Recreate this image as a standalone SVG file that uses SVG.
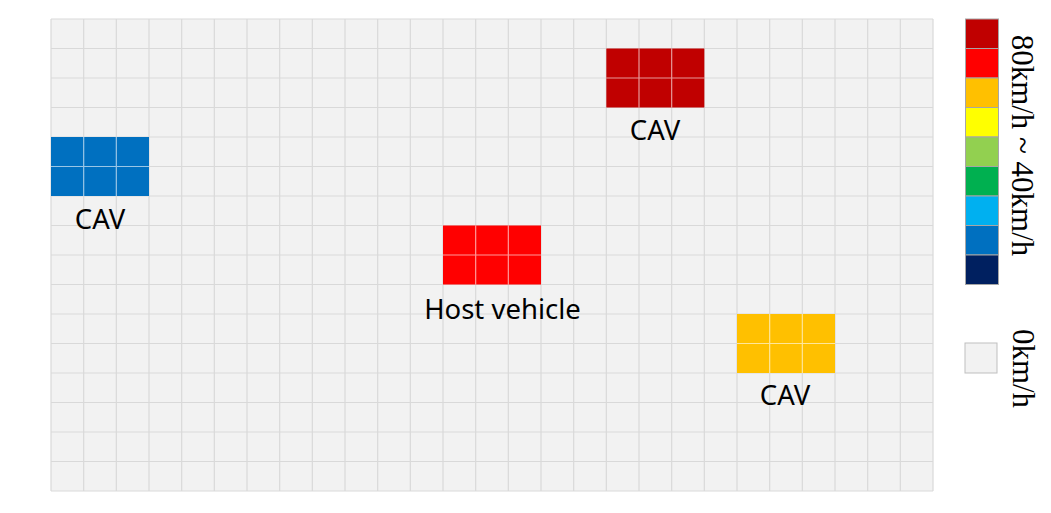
<svg xmlns="http://www.w3.org/2000/svg" width="1051" height="513" viewBox="0 0 1051 513">
<style>
.grid{fill:none;stroke:#d9d9d9;stroke-width:1.2}
.inner{fill:none;stroke:#ffffff;stroke-opacity:0.6;stroke-width:1.2}
.lbl{font-family:"Noto Sans","Open Sans",sans-serif;font-size:27.5px;fill:#000;text-anchor:middle}
.leg{stroke:#a6a6a6;stroke-width:1}
.legtxt{font-family:"Liberation Serif","Times New Roman",serif;font-size:31px;fill:#000;text-anchor:middle}
</style>
<rect width="1051" height="513" fill="#ffffff"/>
<g id="grid">
<rect x="51" y="19" width="882" height="472" fill="#f2f2f2"/>
<path class="grid" d="M51 19V491M83.67 19V491M116.33 19V491M149 19V491M181.67 19V491M214.33 19V491M247 19V491M279.67 19V491M312.33 19V491M345 19V491M377.67 19V491M410.33 19V491M443 19V491M475.67 19V491M508.33 19V491M541 19V491M573.67 19V491M606.33 19V491M639 19V491M671.67 19V491M704.33 19V491M737 19V491M769.67 19V491M802.33 19V491M835 19V491M867.67 19V491M900.33 19V491M933 19V491
M51 19H933M51 48.5H933M51 78H933M51 107.5H933M51 137H933M51 166.5H933M51 196H933M51 225.5H933M51 255H933M51 284.5H933M51 314H933M51 343.5H933M51 373H933M51 402.5H933M51 432H933M51 461.5H933M51 491H933"/>
</g>
<g id="cav-left">
<rect x="51" y="137" width="98" height="59" fill="#0070c0"/>
<path class="inner" d="M83.67 137V196M116.33 137V196M51 166.5H149"/>
<text class="lbl" x="100" y="228.5">CAV</text>
</g>
<g id="cav-top">
<rect x="606.33" y="48.5" width="98" height="59" fill="#c00000"/>
<path class="inner" d="M639 48.5V107.5M671.67 48.5V107.5M606.33 78H704.33"/>
<text class="lbl" x="655" y="140">CAV</text>
</g>
<g id="host-vehicle">
<rect x="443" y="225.5" width="98" height="59" fill="#ff0000"/>
<path class="inner" d="M475.67 225.5V284.5M508.33 225.5V284.5M443 255H541"/>
<text class="lbl" x="502.5" y="318.5">Host vehicle</text>
</g>
<g id="cav-right">
<rect x="737" y="314" width="98" height="59" fill="#ffc000"/>
<path class="inner" d="M769.67 314V373M802.33 314V373M737 343.5H835"/>
<text class="lbl" x="785" y="405">CAV</text>
</g>
<g id="legend">
<rect class="leg" x="965.5" y="19" width="33" height="29.5" fill="#c00000"/>
<rect class="leg" x="965.5" y="48.5" width="33" height="29.5" fill="#ff0000"/>
<rect class="leg" x="965.5" y="78" width="33" height="29.5" fill="#ffc000"/>
<rect class="leg" x="965.5" y="107.5" width="33" height="29.5" fill="#ffff00"/>
<rect class="leg" x="965.5" y="137" width="33" height="29.5" fill="#92d050"/>
<rect class="leg" x="965.5" y="166.5" width="33" height="29.5" fill="#00b050"/>
<rect class="leg" x="965.5" y="196" width="33" height="29.5" fill="#00b0f0"/>
<rect class="leg" x="965.5" y="225.5" width="33" height="29.5" fill="#0070c0"/>
<rect class="leg" x="965.5" y="255" width="33" height="29.5" fill="#002060"/>
<text class="legtxt" x="1012" y="145.5" transform="rotate(90 1012 145.5)">80km/h ~ 40km/h</text>
<rect x="965" y="343" width="32" height="30" fill="#f2f2f2" stroke="#bfbfbf" stroke-width="1"/>
<text class="legtxt" x="1013" y="368.5" transform="rotate(90 1013 368.5)">0km/h</text>
</g>
</svg>
